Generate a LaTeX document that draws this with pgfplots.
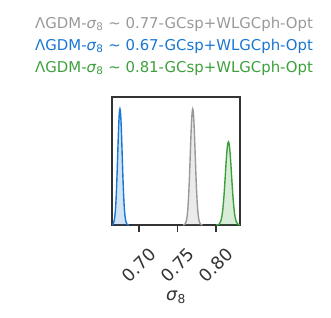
\documentclass[border=0pt]{standalone}
\usepackage{fontspec}
\setmainfont{DejaVu Sans}
\usepackage{pgfplots}
\pgfplotsset{compat=1.18}
\usepackage{pgfplotstable}
\definecolor{cgray}{RGB}{153,153,153}
\definecolor{cblue}{RGB}{25,118,210}
\definecolor{cgreen}{RGB}{60,160,60}
\definecolor{axgray}{RGB}{51,51,51}
\pgfplotstableread{
x y
0.6637 0.0003
0.66515 0.0022
0.6666 0.0111
0.66805 0.0439
0.668775 0.0796
0.6695 0.1353
0.670225 0.2163
0.67095 0.3247
0.671675 0.4578
0.6724 0.6065
0.673125 0.7548
0.67385 0.8825
0.674575 0.9692
0.6753 1.0
0.676025 0.9692
0.67675 0.8825
0.677475 0.7548
0.6782 0.6065
0.678925 0.4578
0.67965 0.3247
0.680375 0.2163
0.6811 0.1353
0.681825 0.0796
0.68255 0.0439
0.684 0.0111
0.68545 0.0022
0.6869 0.0003
}\blue
\pgfplotstableread{
x y
0.7569 0.0003
0.7585 0.0022
0.7601 0.0111
0.7617 0.0439
0.7625 0.0796
0.7633 0.1353
0.7641 0.2163
0.7649 0.3247
0.7657 0.4578
0.7665 0.6065
0.7673 0.7548
0.7681 0.8825
0.7689 0.9692
0.7697 1.0
0.7705 0.9692
0.7713 0.8825
0.7721 0.7548
0.7729 0.6065
0.7737 0.4578
0.7745 0.3247
0.7753 0.2163
0.7761 0.1353
0.7769 0.0796
0.7777 0.0439
0.7793 0.0111
0.7809 0.0022
0.7825 0.0003
}\gray
\pgfplotstableread{
x y
0.800 0.0002
0.802 0.0016
0.804 0.0079
0.806 0.0314
0.807 0.0570
0.808 0.0969
0.809 0.1549
0.810 0.2325
0.811 0.3278
0.812 0.4343
0.813 0.5404
0.814 0.6319
0.815 0.6940
0.816 0.716
0.817 0.6940
0.818 0.6319
0.819 0.5404
0.820 0.4343
0.821 0.3278
0.822 0.2325
0.823 0.1549
0.824 0.0969
0.825 0.0570
0.826 0.0314
0.828 0.0079
0.830 0.0016
0.832 0.0002
}\green
\begin{document}
\begin{tikzpicture}
\path[use as bounding box] (0,0) rectangle (331pt,317pt);
\node[anchor=west, inner sep=0, text=cgray, font=\fontsize{14.9}{16}\selectfont] at (35pt,293pt) {ΛGDM-\textit{σ}\textsubscript{8} ∼ 0.77-GCsp+WLGCph-Opt};
\node[anchor=west, inner sep=0, text=cblue, font=\fontsize{14.9}{16}\selectfont] at (35pt,271pt) {ΛGDM-\textit{σ}\textsubscript{8} ∼ 0.67-GCsp+WLGCph-Opt};
\node[anchor=west, inner sep=0, text=cgreen, font=\fontsize{14.9}{16}\selectfont] at (35pt,249pt) {ΛGDM-\textit{σ}\textsubscript{8} ∼ 0.81-GCsp+WLGCph-Opt};
\begin{axis}[
  at={(112pt,92pt)}, anchor=south west,
  width=128pt, height=128pt, scale only axis,
  xmin=0.665, xmax=0.831, ymin=0, ymax=1.103,
  axis line style={axgray, line width=1.4pt},
  xtick={0.70,0.75,0.80},
  xticklabels={0.70,0.75,0.80},
  ytick=\empty,
  tick pos=bottom, tick align=outside,
  major tick length=7pt,
  every tick/.style={axgray, line width=1.4pt},
  xticklabel style={yshift=-33pt, rotate=45, anchor=center, inner sep=0pt, text=axgray, font=\fontsize{17.5}{19}\selectfont},
  xlabel={\textit{σ}\textsubscript{8}},
  xlabel style={at={(axis description cs:0.5,-0.5625)}, anchor=center, text=axgray, font=\fontsize{17.5}{19}\selectfont},
  clip=true,
]
\addplot[draw=none, fill=cgray, fill opacity=0.2, smooth] table {\gray} \closedcycle;
\addplot[cgray, line width=1.4pt, smooth] table {\gray};
\addplot[draw=none, fill=cblue, fill opacity=0.2, smooth] table {\blue} \closedcycle;
\addplot[cblue, line width=1.4pt, smooth] table {\blue};
\addplot[draw=none, fill=cgreen, fill opacity=0.2, smooth] table {\green} \closedcycle;
\addplot[cgreen, line width=1.4pt, smooth] table {\green};
\end{axis}
\end{tikzpicture}
\end{document}
